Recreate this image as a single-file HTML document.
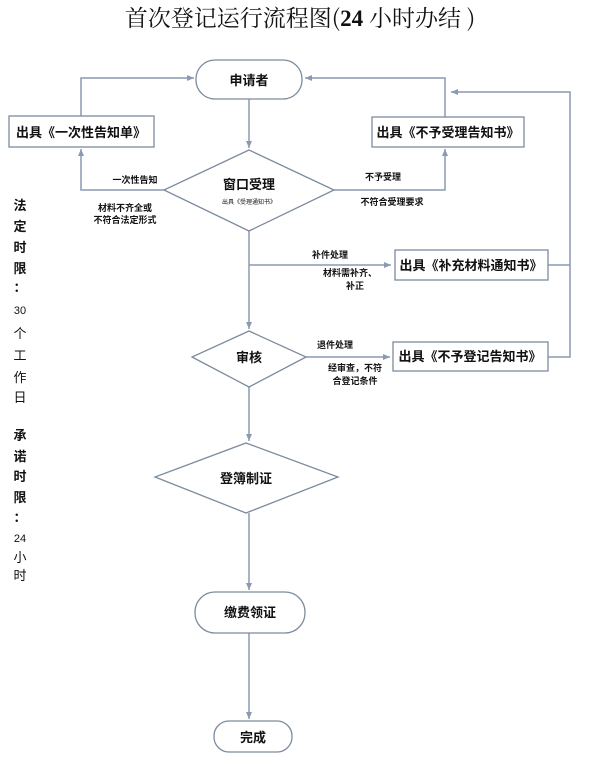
<!DOCTYPE html>
<html><head><meta charset="utf-8"><style>
html,body{margin:0;padding:0;background:#fff;}
svg{display:block;font-family:"Liberation Sans","Noto Sans CJK SC",sans-serif;}
</style></head><body>
<svg width="600" height="764" viewBox="0 0 600 764" xmlns="http://www.w3.org/2000/svg">
<defs>
<marker id="a" markerWidth="8" markerHeight="8" refX="7" refY="4" orient="auto" markerUnits="userSpaceOnUse">
<path d="M0,1 L7,4 L0,7 z" fill="#8a9ab0"/></marker>
</defs>
<text x="300" y="26" text-anchor="middle" font-family="'Noto Serif CJK SC',serif" font-size="23" fill="#111">首次登记运行流程图(<tspan font-weight="bold" font-family="'Liberation Serif',serif">24</tspan> 小时办结 )</text>
<g stroke="#8a9ab0" stroke-width="1.5" fill="none">
<line x1="249" y1="99" x2="249" y2="148" marker-end="url(#a)"/>
<polyline points="164,190 81,190 81,149" marker-end="url(#a)"/>
<polyline points="81,116 81,78 194,78" marker-end="url(#a)"/>
<polyline points="334,190 445,190 445,149" marker-end="url(#a)"/>
<polyline points="445,117 445,78 305,78" marker-end="url(#a)"/>
<polyline points="548,265 570,265 570,92 451,92" marker-end="url(#a)"/>
<polyline points="548,357 570,357 570,265"/>
<line x1="249" y1="231" x2="249" y2="329" marker-end="url(#a)"/>
<line x1="249" y1="265" x2="391" y2="265" marker-end="url(#a)"/>
<line x1="306" y1="357" x2="390" y2="357" marker-end="url(#a)"/>
<line x1="249" y1="387" x2="249" y2="441" marker-end="url(#a)"/>
<line x1="249" y1="513" x2="249" y2="590" marker-end="url(#a)"/>
<line x1="249" y1="633" x2="249" y2="719" marker-end="url(#a)"/>
</g>
<g stroke="#7d8b9e" stroke-width="1.3" fill="#fff">
<rect x="196" y="60" width="106" height="39" rx="19"/>
<rect x="9" y="116" width="145" height="31"/>
<rect x="372" y="117" width="152" height="30"/>
<polygon points="249,150 334,190 249,231 164,190"/>
<rect x="395" y="250" width="153" height="30"/>
<polygon points="249,331 306,357 249,387 192,357"/>
<rect x="393" y="342" width="155" height="29"/>
<polygon points="246,443 338,477 246,513 155,477"/>
<rect x="195" y="592" width="110" height="41" rx="20"/>
<rect x="214" y="721" width="78" height="31" rx="15"/>
</g>
<g font-weight="bold" fill="#111" text-anchor="middle">
<text x="249" y="85" font-size="13">申请者</text>
<text x="81" y="137" font-size="13">出具《一次性告知单》</text>
<text x="448" y="137" font-size="13">出具《不予受理告知书》</text>
<text x="249" y="189" font-size="13">窗口受理</text>
<text x="471" y="270" font-size="13">出具《补充材料通知书》</text>
<text x="249" y="362" font-size="13">审核</text>
<text x="470" y="361" font-size="13">出具《不予登记告知书》</text>
<text x="246" y="483" font-size="13">登簿制证</text>
<text x="250" y="617" font-size="13">缴费领证</text>
<text x="253" y="742" font-size="13">完成</text>
<g font-size="9">
<text x="135" y="183">一次性告知</text>
<text x="125" y="211">材料不齐全或</text>
<text x="125" y="223">不符合法定形式</text>
<text x="383" y="180">不予受理</text>
<text x="392" y="205">不符合受理要求</text>
<text x="330" y="258">补件处理</text>
<text x="350" y="276">材料需补齐、</text>
<text x="355" y="289">补正</text>
<text x="335" y="348">退件处理</text>
<text x="355" y="371">经审查，不符</text>
<text x="355" y="384">合登记条件</text>
</g>
<text x="249" y="204" font-size="6" font-weight="normal">出具《受理通知书》</text>
</g>
<g font-size="13" fill="#111" text-anchor="middle">
<text x="20" y="210" font-weight="bold">法</text>
<text x="20" y="231" font-weight="bold">定</text>
<text x="20" y="252" font-weight="bold">时</text>
<text x="20" y="273" font-weight="bold">限</text>
<text x="20" y="292" font-weight="bold">：</text>
<text x="20" y="314" font-size="11">30</text>
<text x="20" y="338">个</text>
<text x="20" y="360">工</text>
<text x="20" y="382">作</text>
<text x="20" y="402">日</text>
<text x="20" y="440" font-weight="bold">承</text>
<text x="20" y="461" font-weight="bold">诺</text>
<text x="20" y="481" font-weight="bold">时</text>
<text x="20" y="502" font-weight="bold">限</text>
<text x="20" y="522" font-weight="bold">：</text>
<text x="20" y="542" font-size="11">24</text>
<text x="20" y="562">小</text>
<text x="20" y="580">时</text>
</g>
</svg>
</body></html>
